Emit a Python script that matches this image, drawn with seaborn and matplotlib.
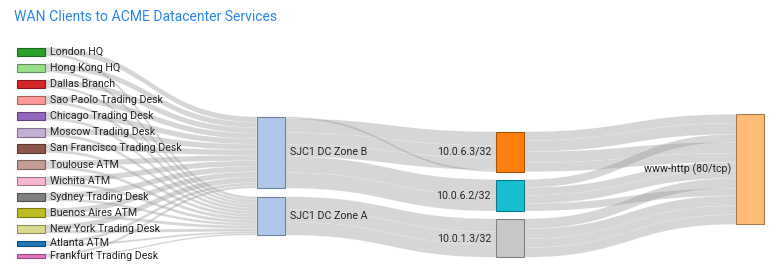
import matplotlib
matplotlib.use("Agg")
import matplotlib.pyplot as plt
import seaborn as sns
import numpy as np
from matplotlib.path import Path
from matplotlib.patches import PathPatch, Rectangle
import matplotlib.colors as mcolors

sns.set_theme(style="white")
plt.rcParams['font.family'] = ['Roboto', 'DejaVu Sans']

# ---------------- data ----------------
title = "WAN Clients to ACME Datacenter Services"
sources = ["London HQ", "Hong Kong HQ", "Dallas Branch", "Sao Paolo Trading Desk",
           "Chicago Trading Desk", "Moscow Trading Desk", "San Francisco Trading Desk",
           "Toulouse ATM", "Wichita ATM", "Sydney Trading Desk", "Buenos Aires ATM",
           "New York Trading Desk", "Atlanta ATM", "Frankfurt Trading Desk"]
zones = ["SJC1 DC Zone B", "SJC1 DC Zone A"]
hosts = ["10.0.6.3/32", "10.0.6.2/32", "10.0.1.3/32"]
services = ["www-http (80/tcp)"]

to_zone_b = [5.5, 5.5, 5.5, 5.5, 5.5, 5.5, 5.5, 5.5, 5.5, 5.5, 5.5, 5.5, 3.0, 2.5]
to_zone_a = [3.0, 3.0, 2.5, 3.0, 3.0, 3.0, 3.0, 3.0, 3.0, 2.5, 3.0, 3.0, 2.0, 1.5]

# zone -> host links (several rows per pair), with the order in which they arrive at the host
zh_zone = ["SJC1 DC Zone B", "SJC1 DC Zone B", "SJC1 DC Zone B", "SJC1 DC Zone B",
           "SJC1 DC Zone B", "SJC1 DC Zone B", "SJC1 DC Zone A", "SJC1 DC Zone A",
           "SJC1 DC Zone A"]
zh_host = ["10.0.6.3/32", "10.0.6.3/32", "10.0.6.3/32", "10.0.6.3/32",
           "10.0.6.2/32", "10.0.6.2/32", "10.0.1.3/32", "10.0.1.3/32", "10.0.1.3/32"]
zh_value = [2.0, 14.0, 12.0, 12.0, 16.0, 15.5, 13.0, 12.5, 13.0]
zh_rank = [3, 0, 1, 2, 0, 1, 0, 1, 2]

# host -> service links, with arrival order at the service
hs_host = ["10.0.6.3/32", "10.0.6.3/32", "10.0.6.3/32", "10.0.6.3/32",
           "10.0.6.2/32", "10.0.6.2/32", "10.0.6.2/32", "10.0.6.2/32",
           "10.0.1.3/32", "10.0.1.3/32", "10.0.1.3/32", "10.0.1.3/32"]
hs_value = [9.0, 11.0, 11.0, 9.0, 8.0, 8.0, 8.0, 7.5, 10.0, 10.0, 9.0, 9.5]
hs_rank = [0, 1, 3, 4, 2, 5, 6, 8, 7, 9, 10, 11]

# ---------------- colours ----------------
pal = sns.color_palette("tab20")
source_colors = [pal[4], pal[5], pal[6], pal[7], pal[8], pal[9], pal[10], pal[11],
                 pal[13], pal[14], pal[16], pal[17], pal[0], pal[12]]
zone_colors = [pal[1], pal[1]]
host_colors = [pal[2], pal[18], pal[15]]
service_colors = [pal[3]]
link_color = "#9a9a9a"
title_color = "#2a86e6"
text_color = "#262626"

# ---------------- layout constants ----------------
W, H = 780, 278
ky = 1.0
node_w = 28
col_x = [16.5, 256.7, 496.0, 736.0]
col_top = [47.5, 116.7, 131.7, 114.3]
col_pad = [7.7, 8.4, 7.8, 8.0]

columns = [sources, zones, hosts, services]
colors = [source_colors, zone_colors, host_colors, service_colors]

# build link table
links = []
for i, s in enumerate(sources):
    links.append(dict(c=0, s=s, t=zones[0], v=to_zone_b[i], orank=(i, 0), irank=(i, 0)))
    links.append(dict(c=0, s=s, t=zones[1], v=to_zone_a[i], orank=(i, 1), irank=(i, 1)))
for k in range(len(zh_zone)):
    links.append(dict(c=1, s=zh_zone[k], t=zh_host[k], v=zh_value[k],
                      orank=(hosts.index(zh_host[k]), k), irank=(zh_rank[k], k)))
for k in range(len(hs_host)):
    links.append(dict(c=2, s=hs_host[k], t=services[0], v=hs_value[k],
                      orank=(0, k), irank=(hs_rank[k], k)))

# node sizes
node_val = {}
for col, names in enumerate(columns):
    for n in names:
        out_v = sum(l['v'] for l in links if l['c'] == col and l['s'] == n)
        in_v = sum(l['v'] for l in links if l['c'] == col - 1 and l['t'] == n)
        node_val[(col, n)] = max(out_v, in_v)

node_pos = {}
for col, names in enumerate(columns):
    y = col_top[col]
    for n in names:
        h = node_val[(col, n)] * ky
        node_pos[(col, n)] = (col_x[col], y, h)
        y += h + col_pad[col]

# link y positions
for col, names in enumerate(columns):
    for n in names:
        x0, y0, h = node_pos[(col, n)]
        outs = sorted([l for l in links if l['c'] == col and l['s'] == n], key=lambda l: l['orank'])
        yy = y0
        for l in outs:
            l['y0'] = yy
            yy += l['v'] * ky
        ins = sorted([l for l in links if l['c'] == col - 1 and l['t'] == n], key=lambda l: l['irank'])
        yy = y0
        for l in ins:
            l['y1'] = yy
            yy += l['v'] * ky

fig = plt.figure(figsize=(W / 100, H / 100), dpi=100)
ax = fig.add_axes([0, 0, 1, 1])
ax.set_xlim(0, W)
ax.set_ylim(H, 0)
ax.axis('off')

for l in links:
    xa = col_x[l['c']] + node_w
    xb = col_x[l['c'] + 1]
    xm = (xa + xb) / 2
    w = l['v'] * ky
    ya, yb = l['y0'], l['y1']
    verts = [(xa, ya), (xm, ya), (xm, yb), (xb, yb),
             (xb, yb + w), (xm, yb + w), (xm, ya + w), (xa, ya + w), (xa, ya)]
    codes = [Path.MOVETO, Path.CURVE4, Path.CURVE4, Path.CURVE4,
             Path.LINETO, Path.CURVE4, Path.CURVE4, Path.CURVE4, Path.CLOSEPOLY]
    ax.add_patch(PathPatch(Path(verts, codes), facecolor=link_color, alpha=0.4,
                           edgecolor='white', linewidth=0.25, zorder=1))

for col, names in enumerate(columns):
    for i, n in enumerate(names):
        x0, y0, h = node_pos[(col, n)]
        fc = colors[col][i]
        ec = tuple(np.array(mcolors.to_rgb(fc)) * 0.65)
        ax.add_patch(Rectangle((x0, y0), node_w, h, facecolor=fc, edgecolor=ec,
                               linewidth=0.8, zorder=3))
        yc = y0 + h / 2
        if col in (0, 1):
            ax.text(x0 + node_w + 5, yc, n, ha='left', va='center', fontsize=7.7,
                    color=text_color, zorder=4)
        else:
            ax.text(x0 - 5, yc, n, ha='right', va='center', fontsize=7.7,
                    color=text_color, zorder=4)

ax.text(14, 17, title, ha='left', va='center', fontsize=10.1, color=title_color)

fig.savefig("out.png", dpi=100)
